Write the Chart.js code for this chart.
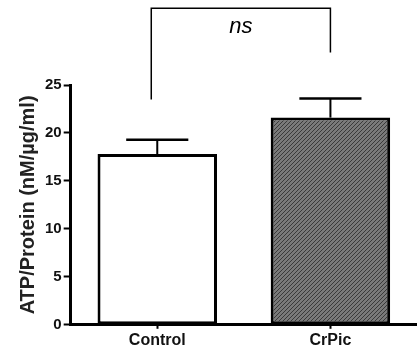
<!DOCTYPE html>
<html>
<head>
<meta charset="utf-8">
<script src="https://cdn.jsdelivr.net/npm/chart.js@4/dist/chart.umd.min.js"></script>
<style>
  html, body { margin: 0; padding: 0; background: #fff; }
  #wrap { width: 417px; height: 356px; position: relative; }
</style>
</head>
<body>
<div id="wrap"><canvas id="c"></canvas></div>
<script>
const categories = ["Control", "CrPic"];
const means = [17.8, 21.6];
const sems = [1.5, 2.0];
const yTicks = [0, 5, 10, 15, 20, 25];
const yTitle = "ATP/Protein (nM/\u00b5g/ml)";
const sigLabel = "ns";
const bracketTop = 33.0;
const bracketEnds = [23.5, 28.4];

const FONT = "'Liberation Sans', Arial, sans-serif";

function makeHatch() {
  const c = document.createElement('canvas');
  c.width = 4; c.height = 4;
  const g = c.getContext('2d');
  g.fillStyle = '#7a7a7a';
  g.fillRect(0, 0, 4, 4);
  g.strokeStyle = '#3a3a3a';
  g.lineWidth = 1;
  g.beginPath();
  g.moveTo(0, 4); g.lineTo(4, 0);
  g.moveTo(-1, 1); g.lineTo(1, -1);
  g.moveTo(3, 5); g.lineTo(5, 3);
  g.stroke();
  return g.createPattern(c, 'repeat');
}

const errorBars = {
  id: 'errorBars',
  afterDatasetsDraw(chart) {
    const ctx = chart.ctx;
    const y = chart.scales.y;
    const meta = chart.getDatasetMeta(0);
    ctx.save();
    ctx.strokeStyle = '#000';
    meta.data.forEach((bar, i) => {
      const top = y.getPixelForValue(means[i] + sems[i]);
      const half = bar.width * 0.26;
      ctx.lineWidth = 2;
      ctx.beginPath();
      ctx.moveTo(bar.x, bar.y);
      ctx.lineTo(bar.x, top);
      ctx.stroke();
      ctx.lineWidth = 2.5;
      ctx.beginPath();
      ctx.moveTo(bar.x - half, top);
      ctx.lineTo(bar.x + half, top);
      ctx.stroke();
    });
    ctx.restore();
  }
};

const bracket = {
  id: 'bracket',
  afterDraw(chart) {
    const ctx = chart.ctx;
    const y = chart.scales.y;
    const meta = chart.getDatasetMeta(0);
    const x0 = meta.data[0].x - 6;
    const x1 = meta.data[1].x;
    const yt = y.getPixelForValue(bracketTop);
    ctx.save();
    ctx.strokeStyle = '#000';
    ctx.lineWidth = 1.5;
    ctx.beginPath();
    ctx.moveTo(x0, y.getPixelForValue(bracketEnds[0]));
    ctx.lineTo(x0, yt);
    ctx.lineTo(x1, yt);
    ctx.lineTo(x1, y.getPixelForValue(bracketEnds[1]));
    ctx.stroke();
    ctx.fillStyle = '#000';
    ctx.font = "italic 22px " + FONT;
    ctx.textAlign = 'center';
    ctx.textBaseline = 'middle';
    ctx.fillText(sigLabel, (x0 + x1) / 2, yt + 19);
    ctx.restore();
  }
};

new Chart(document.getElementById('c'), {
  type: 'bar',
  data: {
    labels: categories,
    datasets: [{
      data: means,
      backgroundColor: ['#ffffff', makeHatch()],
      borderColor: '#000',
      borderWidth: 3,
      borderSkipped: false,
      barPercentage: 0.69,
      categoryPercentage: 1.0
    }]
  },
  options: {
    responsive: true,
    maintainAspectRatio: false,
    animation: false,
    events: [],
    layout: { padding: { top: 85, right: 0, left: 16, bottom: 4 } },
    plugins: { legend: { display: false }, tooltip: { enabled: false } },
    scales: {
      x: {
        grid: { display: true, offset: false, drawOnChartArea: false, tickLength: 4, tickWidth: 2, tickColor: '#000' },
        border: { color: '#000', width: 3 },
        ticks: { color: '#111', font: { family: FONT, size: 16, weight: 'bold' }, padding: 2 }
      },
      y: {
        min: 0, max: 25,
        afterBuildTicks(scale) { scale.ticks = yTicks.map(v => ({ value: v })); },
        grid: { display: true, drawOnChartArea: false, tickLength: 7, tickWidth: 2, tickColor: '#000' },
        border: { color: '#000', width: 3 },
        ticks: { color: '#111', font: { family: FONT, size: 15, weight: 'bold' }, padding: 2 },
        title: { display: true, text: yTitle, color: '#222', font: { family: FONT, size: 20, weight: 'bold' }, padding: { top: 0, bottom: 3 } }
      }
    }
  },
  plugins: [errorBars, bracket]
});
</script>
</body>
</html>
